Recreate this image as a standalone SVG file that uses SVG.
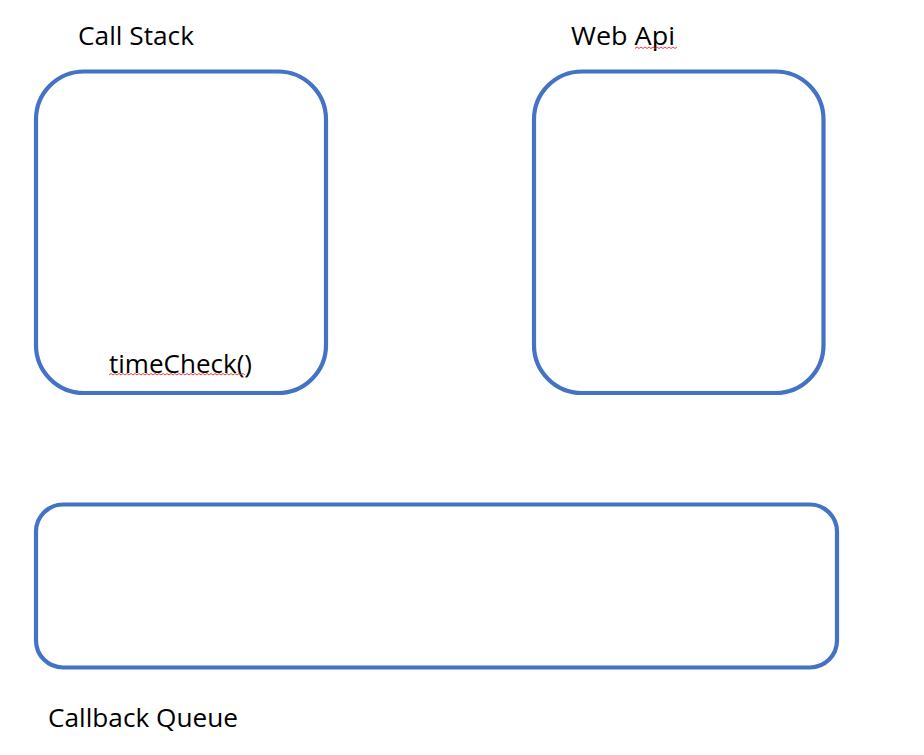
<svg xmlns="http://www.w3.org/2000/svg" width="924" height="755" viewBox="0 0 924 755">
<style>
.box{fill:none;stroke:#4472C4;stroke-width:4.2}
.lbl{font-family:"Open Sans","Noto Sans","DejaVu Sans",sans-serif;font-size:26px;fill:#000}
.sq{fill:none;stroke:#E03030;stroke-width:0.9}
</style>
<rect width="924" height="755" fill="#fff"/>
<g id="call-stack">
<rect class="box" x="36" y="71.5" width="290" height="321.5" rx="48" ry="48"/>
<text class="lbl" x="78" y="45" textLength="116" lengthAdjust="spacingAndGlyphs">Call Stack</text>
<text class="lbl" x="109" y="373" textLength="143" lengthAdjust="spacingAndGlyphs">timeCheck()</text>
<path class="sq" d="M109 375 l2 -1.5 l2 1.5 l2 -1.5 l2 1.5 l2 -1.5 l2 1.5 l2 -1.5 l2 1.5 l2 -1.5 l2 1.5 l2 -1.5 l2 1.5 l2 -1.5 l2 1.5 l2 -1.5 l2 1.5 l2 -1.5 l2 1.5 l2 -1.5 l2 1.5 l2 -1.5 l2 1.5 l2 -1.5 l2 1.5 l2 -1.5 l2 1.5 l2 -1.5 l2 1.5 l2 -1.5 l2 1.5 l2 -1.5 l2 1.5 l2 -1.5 l2 1.5 l2 -1.5 l2 1.5 l2 -1.5 l2 1.5 l2 -1.5 l2 1.5 l2 -1.5 l2 1.5 l2 -1.5 l2 1.5 l2 -1.5 l2 1.5 l2 -1.5 l2 1.5 l2 -1.5 l2 1.5 l2 -1.5 l2 1.5 l2 -1.5 l2 1.5 l2 -1.5 l2 1.5 l2 -1.5 l2 1.5 l2 -1.5 l2 1.5 l2 -1.5 l2 1.5 l2 -1.5 l2 1.5 l2 -1.5 l2 1.5 l2 -1.5 l2 1.5"/>
</g>
<g id="web-api">
<rect class="box" x="534" y="71.5" width="289.5" height="321.5" rx="48" ry="48"/>
<text class="lbl" x="571" y="45" textLength="104" lengthAdjust="spacingAndGlyphs">Web Api</text>
<path class="sq" d="M635 48.5 l2 -1.5 l2 1.5 l2 -1.5 l2 1.5 l2 -1.5 l2 1.5 l2 -1.5 l2 1.5 l2 -1.5 l2 1.5 l2 -1.5 l2 1.5 l2 -1.5 l2 1.5 l2 -1.5 l2 1.5 l2 -1.5 l2 1.5 l2 -1.5 l2 1.5 l2 -1.5"/>
</g>
<g id="callback-queue">
<rect class="box" x="36" y="504.5" width="801" height="163" rx="27" ry="27"/>
<text class="lbl" x="48" y="727" textLength="190" lengthAdjust="spacingAndGlyphs">Callback Queue</text>
</g>
<g id="connectors"/>
</svg>
